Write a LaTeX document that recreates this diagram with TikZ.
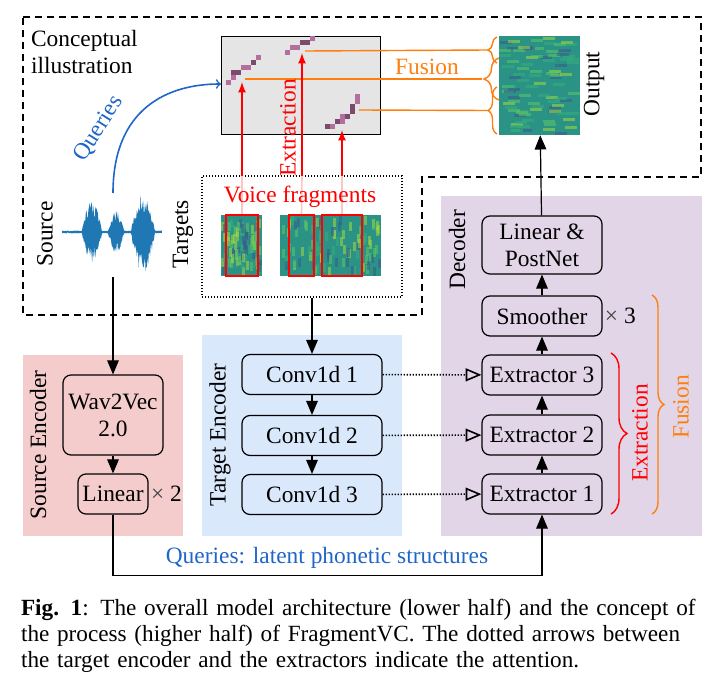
\documentclass[tikz,border=0pt]{standalone}
\usepackage{fontspec}
\setmainfont{Liberation Serif}
\usepackage{tikz}
\usetikzlibrary{arrows}
\usetikzlibrary{calc}
\usetikzlibrary{positioning}
\usetikzlibrary{decorations.pathreplacing}

\definecolor{srcbg}{HTML}{F4CCCC}
\definecolor{tgtbg}{HTML}{DAE8FC}
\definecolor{decbg}{HTML}{E1D5E7}
\definecolor{qblue}{HTML}{1F66C8}
\definecolor{wave}{HTML}{1F77B4}
\definecolor{fuscol}{HTML}{FF7F0E}
\definecolor{fragpink}{HTML}{FFC4C4}
\definecolor{pl}{HTML}{B3709F}
\definecolor{pd}{HTML}{7D4A6E}
\definecolor{virbase}{HTML}{2A9386}
\definecolor{vir0}{HTML}{3A5A8C}
\definecolor{vir1}{HTML}{35B07C}
\definecolor{vir2}{HTML}{A6D83E}
\definecolor{vir3}{HTML}{5EC962}
\newcommand{\ver}[1]{\textcolor{red}{#1}}
% spectrogram: x, y, w, h, patch w, patch h
\newcommand{\specgram}[6]{%
  \fill[virbase] (#1,#2) rectangle ++(#3,#4);
  \foreach \k in {1,...,90}{%
    \pgfmathsetmacro{\sx}{#1+rnd*(#3-#5)}%
    \pgfmathsetmacro{\sy}{#2+rnd*(#4-#6)}%
    \pgfmathtruncatemacro{\sc}{int(3.99*rnd)}%
    \fill[vir\sc, opacity=0.55] (\sx,\sy) rectangle ++(#5,#6);
  }}

\begin{document}
\begin{tikzpicture}[x=0.5pt, y=-0.5pt, font=\fontsize{11.7}{13.5}\selectfont,
    declare function={bump(\t,\c,\w)=max(0,1-((\t-\c)/\w)^2);
      env(\t)=1.5+30*bump(\t,92,10)+20*bump(\t,116,8)+40*bump(\t,143,12);},
    blk/.style={draw, rounded corners=4pt, line width=0.6pt, align=center, minimum height=20pt, inner sep=1.5pt},
    conv/.style={blk, minimum width=70pt},
    dec/.style={blk, minimum width=60pt},
    flow/.style={-triangle 45, line width=0.6pt},
    dots/.style={dash pattern=on 0.7pt off 0.8pt, line width=0.8pt},
    attn/.style={dots, -open triangle 45},
    xtr/.style={red, -latex, line width=0.8pt},
    fus/.style={fuscol, line width=0.7pt},
    vert/.style={rotate=90}]

  \useasboundingbox (0,0) rectangle (720,685);
  \pgfmathsetseed{7}

  % panels
  \fill[srcbg] (23,355) rectangle (183,536);
  \fill[tgtbg] (202,335) rectangle (402,536);
  \fill[decbg] (441,196) rectangle (702,536);
  \draw[dash pattern=on 3.5pt off 2.5pt, line width=0.7pt] (23,17) -- (701,17) -- (701,177) -- (422,177) -- (422,315) -- (23,315) -- cycle;

  \node[anchor=north west, align=left] (title) at (24,23) {Conceptual\\illustration};

  % attention matrix
  \node[draw, fill=gray!20, minimum width=79.5pt, minimum height=49pt, inner sep=0pt] (mat) at (300.5,85) {};
  \foreach \px/\py/\pc in {226/80/pl, 231/75/pl, 231/70/pd, 236/70/pd, 241/65/pl, 246/65/pl, 251/60/pd, 256/55/pl,
      285/50/pl, 290/45/pl, 295/45/pl, 300/40/pd, 305/40/pd, 310/36/pl,
      325/124/pd, 330/124/pl, 335/119/pd, 340/119/pl, 340/114/pl, 345/114/pd, 350/109/pd, 350/104/pd, 355/99/pl, 355/94/pl}
    \fill[\pc] (\px,\py) rectangle ++(5,5);

  % output
  \specgram{499}{36}{81}{99}{12}{3}
  \node[minimum width=40.5pt, minimum height=49.5pt, inner sep=0pt] (out) at (539.5,85.5) {};
  \node[vert] (outlbl) at (594,84) {Output};

  % fusion
  \coordinate (c1) at (245,79);
  \coordinate (c2) at (305,51);
  \coordinate (c3) at (359,110);
  \coordinate (bA) at (488,50);
  \coordinate (bB) at (482,79);
  \coordinate (bC) at (488,110.5);
  \draw[fus, decorate, decoration={brace, amplitude=4.5pt}] (497,63) -- (497,37);
  \draw[fus, decorate, decoration={brace, amplitude=7.5pt}] (499,100) -- (499,58);
  \draw[fus, decorate, decoration={brace, amplitude=4.5pt}] (497,134) -- (497,87);
  \draw[fus] (c2) -- (bA);
  \draw[fus] (c1) -- (bB);
  \draw[fus] (c3) -- (bC);
  \node[fuscol] (fuslbl) at (427,67) {Fusion};

  % source
  \fill[wave] plot[domain=62:162, samples=160] (\x,{232-env(\x)*(0.45+0.55*rnd)})
    -- plot[domain=162:62, samples=160] (\x,{232+env(\x)*(0.45+0.55*rnd)}) -- cycle;
  \coordinate (srcq) at (113,193);
  \coordinate (srcb) at (113,277);
  \coordinate (matq) at (221,84);
  \node[vert] (srclbl) at (45,234) {Source};
  \draw[qblue, ->, line width=0.8pt] (srcq) to[out=90, in=180, out looseness=1.4, in looseness=0.9] (matq);
  \node[qblue, rotate=58] (qtop) at (99,129) {Queries};

  % targets
  \node[draw, dots, minimum width=100pt, minimum height=60.5pt, inner sep=0pt] (tgtbox) at (302,236.5) {};
  \node[vert] (tgtlbl) at (183,234) {Targets};
  \specgram{221}{215}{41}{61}{3}{9}
  \specgram{280}{215}{101}{61}{3}{9}
  \node[draw=red, line width=0.9pt, minimum width=16pt, minimum height=30.5pt, inner sep=0pt] (frag1) at (242,245.5) {};
  \node[draw=red, line width=0.9pt, minimum width=12.5pt, minimum height=30.5pt, inner sep=0pt] (frag2) at (301.5,245.5) {};
  \node[draw=red, line width=0.9pt, minimum width=20pt, minimum height=30.5pt, inner sep=0pt] (frag3) at (342,245.5) {};
  \coordinate (v1) at (242,176);
  \coordinate (v2) at (302,176);
  \coordinate (v3) at (342,176);
  \draw[fragpink, line width=0.8pt] (frag1.north) -- (v1);
  \draw[fragpink, line width=0.8pt] (frag2.north) -- (v2);
  \draw[fragpink, line width=0.8pt] (frag3.north) -- (v3);
  \node (voicelbl) at (300,197) {\ver{Voice fragments}};
  \draw[xtr] (v1) -- (242,82);
  \draw[xtr] (v2) -- (302,53);
  \draw[xtr] (v3) -- (342,130);
  \node[vert] (xtrtop) at (288,128) {\ver{Extraction}};

  % source encoder
  \node[vert] (srcenc) at (38,445) {Source Encoder};
  \node[blk, minimum width=50pt, minimum height=40pt] (w2v) at (113,415) {Wav2Vec\\2.0};
  \node[blk, minimum width=35pt] (lin) at (113,494) {Linear};
  \node[right=0pt of lin, inner sep=1pt] (x2) {\textcolor{darkgray}{×} 2};
  \draw[flow] (srcb) -- (w2v);
  \draw[flow] (w2v) -- (lin);

  % target encoder
  \node[vert] (tgtenc) at (220,435) {Target Encoder};
  \node[conv] (conv1) at (312,374.5) {Conv1d 1};
  \node[conv] (conv2) at (312,435.5) {Conv1d 2};
  \node[conv] (conv3) at (312,494.5) {Conv1d 3};
  \draw[flow] (tgtbox.south -| conv1.north) -- (conv1.north);
  \draw[flow] (conv1) -- (conv2);
  \draw[flow] (conv2) -- (conv3);

  % decoder
  \node[vert, anchor=east] (declbl) at (457,203) {Decoder};
  \node[dec, minimum height=29pt] (lpn) at (542,245) {Linear \&\\PostNet};
  \node[dec] (smo) at (542,316) {Smoother};
  \node[right=0pt of smo, inner sep=1pt] (x3) {\textcolor{darkgray}{×} 3};
  \node[dec] (ex3) at (542,375) {Extractor 3};
  \node[dec] (ex2) at (542,435) {Extractor 2};
  \node[dec] (ex1) at (542,494) {Extractor 1};
  \draw[flow] (ex1) -- (ex2);
  \draw[flow] (ex2) -- (ex3);
  \draw[flow] (ex3) -- (smo);
  \draw[flow] (smo) -- (lpn);
  \draw[flow] (lpn) -- (out);
  \draw[attn] (conv1) -- (ex3);
  \draw[attn] (conv2) -- (ex2);
  \draw[attn] (conv3) -- (ex1);

  \draw[red, line width=0.7pt, decorate, decoration={brace, amplitude=8pt}] (611,353) -- (611,514);
  \node[vert] (xtrlbl) at (640,433) {\ver{Extraction}};
  \draw[fus, decorate, decoration={brace, amplitude=6pt}] (652,295) -- (652,514);
  \node[vert, fuscol] (fuslbl2) at (681,407) {Fusion};

  % queries path
  \draw[flow] (lin.south) -- ++(0,61) -| (ex1.south);
  \node[qblue] (qlbl) at (327,558) {Queries: latent phonetic structures};

  % caption
  \node[anchor=north west, text width=340pt, align=left, font=\fontsize{11.6}{13}\selectfont] (cap) at (14,592)
    {\textbf{Fig. 1}: The overall model architecture (lower half) and the concept of\\
     the process (higher half) of FragmentVC. The dotted arrows between\\
     the target encoder and the extractors indicate the attention.};

\end{tikzpicture}
\end{document}
